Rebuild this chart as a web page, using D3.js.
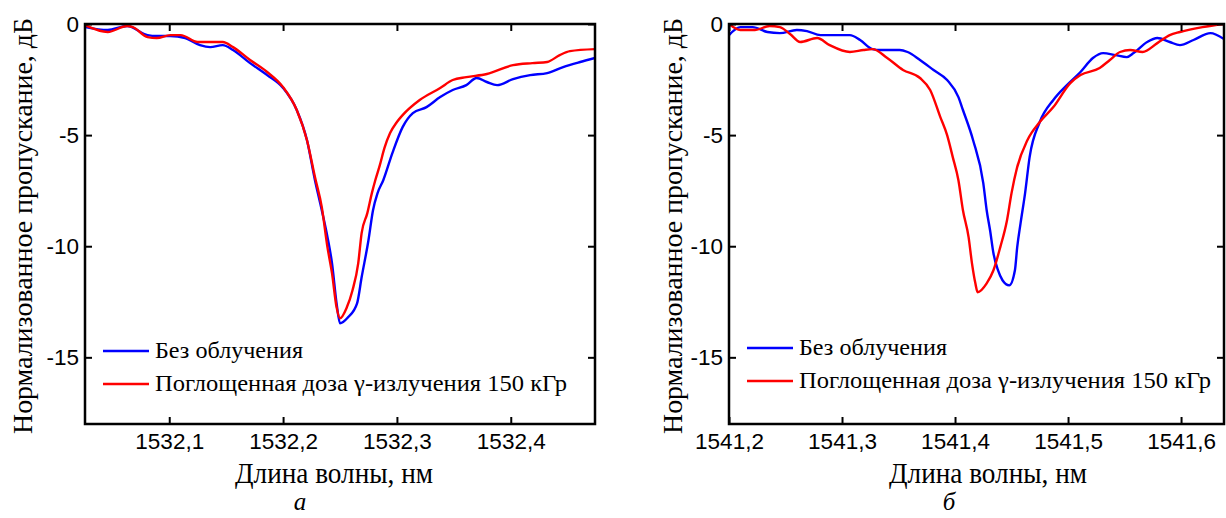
<!DOCTYPE html>
<html>
<head>
<meta charset="utf-8">
<script src="https://cdn.jsdelivr.net/npm/d3@7"></script>
<style>
body { margin: 0; background: #fff; }
svg { display: block; }
</style>
</head>
<body>
<svg id="chart" width="1226" height="518"></svg>
<script>
// panel a: 1532 nm grating
var nmA_blue = [1532.026,1532.046,1532.063,1532.081,1532.089,1532.101,1532.114,1532.127,1532.136,1532.147,1532.156,1532.171,1532.186,1532.200,1532.212,1532.221,1532.228,1532.234,1532.239,1532.243,1532.247,1532.250,1532.257,1532.265,1532.269,1532.275,1532.279,1532.283,1532.288,1532.296,1532.305,1532.314,1532.326,1532.338,1532.349,1532.361,1532.370,1532.379,1532.388,1532.402,1532.417,1532.432,1532.446,1532.461,1532.474];
var dbA_blue = [-0.14,-0.27,-0.09,-0.50,-0.54,-0.54,-0.63,-0.95,-1.04,-0.95,-1.17,-1.76,-2.30,-2.88,-3.87,-5.23,-7.03,-8.38,-9.59,-10.77,-12.57,-13.47,-13.20,-12.57,-11.40,-9.73,-8.38,-7.61,-7.03,-5.81,-4.64,-4.01,-3.74,-3.29,-2.97,-2.75,-2.43,-2.61,-2.75,-2.48,-2.30,-2.21,-1.94,-1.71,-1.53];
var nmA_red = [1532.026,1532.046,1532.063,1532.068,1532.081,1532.089,1532.101,1532.110,1532.125,1532.136,1532.147,1532.156,1532.171,1532.186,1532.200,1532.212,1532.221,1532.228,1532.234,1532.239,1532.243,1532.247,1532.250,1532.256,1532.261,1532.266,1532.269,1532.274,1532.278,1532.281,1532.285,1532.289,1532.294,1532.300,1532.305,1532.320,1532.338,1532.349,1532.361,1532.379,1532.402,1532.419,1532.432,1532.443,1532.452,1532.474];
var dbA_red = [-0.05,-0.36,-0.09,-0.14,-0.59,-0.63,-0.50,-0.50,-0.81,-0.81,-0.81,-1.04,-1.62,-2.16,-2.84,-3.87,-5.23,-6.89,-8.24,-10.05,-11.22,-12.75,-13.24,-12.75,-11.98,-10.77,-9.41,-8.51,-7.61,-7.03,-6.35,-5.59,-4.91,-4.41,-4.10,-3.42,-2.88,-2.52,-2.39,-2.25,-1.85,-1.76,-1.71,-1.40,-1.22,-1.13];

// panel б: 1541 nm grating
var nmB_blue = [1541.200,1541.210,1541.221,1541.234,1541.245,1541.260,1541.269,1541.281,1541.292,1541.307,1541.316,1541.327,1541.334,1541.351,1541.358,1541.369,1541.381,1541.393,1541.403,1541.407,1541.416,1541.425,1541.428,1541.431,1541.434,1541.438,1541.442,1541.448,1541.453,1541.455,1541.458,1541.462,1541.466,1541.475,1541.487,1541.499,1541.511,1541.522,1541.531,1541.542,1541.552,1541.558,1541.570,1541.579,1541.590,1541.599,1541.611,1541.626,1541.638];
var dbB_blue = [-0.50,-0.14,-0.14,-0.36,-0.41,-0.27,-0.32,-0.50,-0.50,-0.50,-0.72,-1.13,-1.17,-1.17,-1.26,-1.62,-2.07,-2.52,-3.29,-3.87,-5.23,-7.16,-8.38,-9.28,-10.32,-11.08,-11.53,-11.76,-11.08,-10.05,-8.96,-7.61,-5.99,-4.41,-3.42,-2.75,-2.16,-1.53,-1.31,-1.40,-1.49,-1.31,-0.81,-0.63,-0.81,-0.95,-0.72,-0.41,-0.68];
var nmB_red = [1541.200,1541.210,1541.223,1541.236,1541.245,1541.254,1541.263,1541.278,1541.289,1541.307,1541.319,1541.327,1541.340,1541.354,1541.369,1541.378,1541.387,1541.393,1541.398,1541.403,1541.407,1541.412,1541.415,1541.418,1541.420,1541.428,1541.434,1541.440,1541.446,1541.450,1541.455,1541.464,1541.475,1541.487,1541.502,1541.511,1541.528,1541.537,1541.546,1541.555,1541.566,1541.579,1541.590,1541.599,1541.619,1541.638];
var dbB_red = [0.00,-0.27,-0.27,-0.09,-0.14,-0.45,-0.81,-0.63,-0.95,-1.26,-1.17,-1.13,-1.53,-2.07,-2.43,-2.97,-4.19,-5.00,-5.99,-7.03,-8.38,-9.59,-10.77,-11.67,-12.07,-11.67,-11.08,-10.05,-8.83,-7.61,-6.44,-5.23,-4.41,-3.74,-2.66,-2.30,-1.98,-1.62,-1.26,-1.17,-1.26,-0.86,-0.50,-0.36,-0.14,0.00];

var ticksA = [1532.1, 1532.2, 1532.3, 1532.4];
var ticksB = [1541.2, 1541.3, 1541.4, 1541.5, 1541.6];
var ticksY = [0, -5, -10, -15];
var legendNames = ["Без облучения", "Поглощенная доза \u03B3-излучения 150 кГр"];
var legendWidths = [148, 412];
var colors = ["#0000ff", "#ff0000"];

var svg = d3.select("#chart");

function zip(xs, ys) {
	return xs.map(function(x, i) { return {x: x, y: ys[i]}; });
}

function serif(sel, size) {
	return sel.style("font-family", "Liberation Serif").style("font-size", size + "px").attr("fill", "#000");
}

function drawPanel(p) {
	var x = d3.scaleLinear().domain(p.xdom).range([p.left, p.right]);
	var y = d3.scaleLinear().domain([-18, 0]).range([424, 24]);
	var fmt = function(d) { return d3.format(".1f")(d).replace(".", ","); };

	var clipId = "clip" + p.id;
	svg.append("clipPath").attr("id", clipId)
	.append("rect")
	.attr("x", p.left).attr("y", 24)
	.attr("width", p.right - p.left).attr("height", 400);

	var line = d3.line()
	.x(function(d) { return x(d.x); })
	.y(function(d) { return y(d.y); })
	.curve(d3.curveMonotoneX);

	p.series.forEach(function(s, i) {
		svg.append("path")
		.datum(s)
		.attr("clip-path", "url(#" + clipId + ")")
		.attr("fill", "none")
		.attr("stroke", colors[i])
		.attr("stroke-width", 2.4)
		.attr("stroke-linejoin", "round")
		.attr("d", line);
	});

	// axes, ticks point inward
	var axes = svg.append("g");
	axes.append("g")
	.attr("transform", "translate(0,424)")
	.call(d3.axisBottom(x).tickValues(p.ticks).tickFormat(fmt).tickSizeInner(-7).tickSizeOuter(0).tickPadding(9));
	axes.append("g")
	.attr("transform", "translate(0,24)")
	.call(d3.axisTop(x).tickValues(p.ticks).tickFormat("").tickSizeInner(-7).tickSizeOuter(0));
	axes.append("g")
	.attr("transform", "translate(" + p.left + ",0)")
	.call(d3.axisLeft(y).tickValues(ticksY).tickFormat(function(d) { return d; }).tickSizeInner(-7).tickSizeOuter(0).tickPadding(p.ypad));
	axes.append("g")
	.attr("transform", "translate(" + p.right + ",0)")
	.call(d3.axisRight(y).tickValues(ticksY).tickFormat("").tickSizeInner(-7).tickSizeOuter(0));

	axes.selectAll(".domain").remove();
	axes.selectAll(".tick line").attr("stroke", "#000").attr("stroke-width", 2);
	axes.selectAll(".tick text")
	.style("font-family", "Liberation Sans")
	.style("font-size", "22.5px")
	.attr("fill", "#000");

	svg.append("rect")
	.attr("x", p.left).attr("y", 24)
	.attr("width", p.right - p.left).attr("height", 400)
	.attr("fill", "none").attr("stroke", "#000").attr("stroke-width", 2.5);

	// legend
	legendNames.forEach(function(name, i) {
		var ly = p.legY + i * 33;
		svg.append("line")
		.attr("x1", p.left + 18).attr("x2", p.left + 64)
		.attr("y1", ly).attr("y2", ly)
		.attr("stroke", colors[i]).attr("stroke-width", 2.4);
		serif(svg.append("text"), 23)
		.attr("x", p.left + 70).attr("y", ly + 7)
		.attr("textLength", legendWidths[i])
		.attr("lengthAdjust", "spacingAndGlyphs")
		.text(name);
	});

	serif(svg.append("text"), 30)
	.attr("x", p.titleX).attr("y", 483)
	.attr("text-anchor", "middle")
	.attr("textLength", 198)
	.attr("lengthAdjust", "spacingAndGlyphs")
	.text("Длина волны, нм");

	serif(svg.append("text"), 25)
	.attr("x", p.letterX).attr("y", 510)
	.attr("text-anchor", "middle")
	.style("font-style", "italic")
	.text(p.letter);

	serif(svg.append("text"), 28)
	.attr("transform", "translate(" + p.ytitleX + ",226) rotate(-90)")
	.attr("text-anchor", "middle")
	.attr("textLength", 416)
	.attr("lengthAdjust", "spacingAndGlyphs")
	.text("Нормализованное пропускание, дБ");
}

drawPanel({
	id: "A", left: 85, right: 595,
	xdom: [1532.026, 1532.474], ticks: ticksA, ypad: 6,
	series: [zip(nmA_blue, dbA_blue), zip(nmA_red, dbA_red)],
	legY: 351, letter: "а", titleX: 334, letterX: 300, ytitleX: 32
});
drawPanel({
	id: "B", left: 729, right: 1224,
	xdom: [1541.2, 1541.638], ticks: ticksB, ypad: 6,
	series: [zip(nmB_blue, dbB_blue), zip(nmB_red, dbB_red)],
	legY: 348, letter: "б", titleX: 988, letterX: 949, ytitleX: 682
});
</script>
</body>
</html>
